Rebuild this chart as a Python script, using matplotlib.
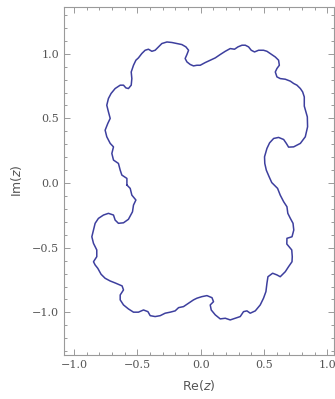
import matplotlib.pyplot as plt
from matplotlib.ticker import MultipleLocator

# boundary of the filled set, traced clockwise from the picture
re_z = [-0.583, -0.583, -0.623, -0.636, -0.650, -0.689, -0.702, -0.689, -0.715, -0.742,
        -0.755, -0.734, -0.715, -0.729, -0.742, -0.729, -0.708, -0.676, -0.636, -0.610,
        -0.591, -0.571, -0.549, -0.544, -0.549, -0.531, -0.512, -0.492, -0.465, -0.439,
        -0.413, -0.386, -0.360, -0.334, -0.307, -0.267, -0.228, -0.188, -0.149, -0.117,
        -0.096, -0.109, -0.123, -0.109, -0.083, -0.057, -0.030, -0.004, 0.036, 0.075,
        0.115, 0.154, 0.194, 0.233, 0.267, 0.294, 0.326, 0.352, 0.378, 0.399,
        0.425, 0.457, 0.496, 0.523, 0.549, 0.589, 0.615, 0.621, 0.602, 0.589,
        0.602, 0.628, 0.668, 0.708, 0.734, 0.760, 0.787, 0.805, 0.818, 0.818,
        0.842, 0.844, 0.826, 0.787, 0.734, 0.694, 0.676, 0.655, 0.615, 0.576,
        0.544, 0.523, 0.504, 0.506, 0.518, 0.538, 0.561, 0.607, 0.628, 0.655,
        0.681, 0.688, 0.708, 0.729, 0.735, 0.721, 0.681, 0.680, 0.719, 0.723,
        0.721, 0.694, 0.668, 0.628, 0.602, 0.568, 0.531, 0.523, 0.515, 0.496,
        0.470, 0.431, 0.391, 0.365, 0.338, 0.312, 0.273, 0.233, 0.194, 0.154,
        0.115, 0.083, 0.075, 0.101, 0.089, 0.049, 0.009, -0.030, -0.057, -0.096,
        -0.136, -0.175, -0.202, -0.241, -0.281, -0.320, -0.360, -0.399, -0.417, -0.452,
        -0.492, -0.531, -0.571, -0.610, -0.636, -0.636, -0.610, -0.621, -0.676, -0.715,
        -0.755, -0.787, -0.813, -0.834, -0.847, -0.821, -0.821, -0.847, -0.860, -0.847,
        -0.834, -0.808, -0.768, -0.729, -0.689, -0.676, -0.650, -0.610, -0.571, -0.539,
        -0.531, -0.512, -0.544, -0.557, -0.583]
im_z = [-0.015, 0.036, 0.062, 0.100, 0.152, 0.178, 0.229, 0.280, 0.307, 0.358,
        0.409, 0.461, 0.500, 0.551, 0.602, 0.654, 0.693, 0.731, 0.757, 0.757,
        0.736, 0.731, 0.757, 0.808, 0.859, 0.911, 0.950, 0.968, 1.002, 1.027,
        1.035, 1.019, 1.027, 1.053, 1.079, 1.091, 1.087, 1.079, 1.071, 1.053,
        1.027, 0.994, 0.963, 0.937, 0.917, 0.906, 0.911, 0.911, 0.932, 0.950,
        0.968, 0.994, 1.019, 1.040, 1.035, 1.053, 1.066, 1.066, 1.053, 1.027,
        1.014, 1.027, 1.027, 1.019, 1.002, 0.975, 0.950, 0.911, 0.886, 0.859,
        0.821, 0.808, 0.803, 0.788, 0.770, 0.757, 0.731, 0.705, 0.666, 0.595,
        0.512, 0.435, 0.358, 0.307, 0.280, 0.278, 0.307, 0.337, 0.353, 0.345,
        0.311, 0.268, 0.203, 0.152, 0.100, 0.054, 0.004, -0.041, -0.093, -0.144,
        -0.183, -0.234, -0.273, -0.311, -0.363, -0.415, -0.427, -0.471, -0.517, -0.569,
        -0.608, -0.646, -0.685, -0.724, -0.710, -0.697, -0.724, -0.775, -0.839, -0.890,
        -0.942, -0.988, -1.006, -0.988, -0.994, -1.032, -1.045, -1.058, -1.045, -1.050,
        -1.019, -0.981, -0.942, -0.917, -0.886, -0.870, -0.878, -0.890, -0.903, -0.929,
        -0.955, -0.963, -0.988, -0.998, -1.006, -1.025, -1.032, -1.025, -0.994, -0.981,
        -0.998, -0.998, -0.973, -0.942, -0.903, -0.865, -0.826, -0.795, -0.772, -0.757,
        -0.736, -0.705, -0.659, -0.633, -0.608, -0.569, -0.517, -0.466, -0.415, -0.363,
        -0.311, -0.273, -0.247, -0.234, -0.247, -0.286, -0.311, -0.307, -0.280, -0.222,
        -0.170, -0.131, -0.093, -0.041, -0.015]

fig = plt.figure(figsize=(3.35, 3.99), dpi=100)
ax = fig.add_axes([0.191, 0.110, 0.805, 0.872])

ax.plot(re_z, im_z, color="#3d3f9e", lw=1.1)

ax.set_xlim(-1.08, 1.05)
ax.set_ylim(-1.33, 1.36)

frame_col = "#9a9a9a"
for s in ax.spines.values():
    s.set_color(frame_col)
    s.set_linewidth(0.8)

ax.xaxis.set_major_locator(MultipleLocator(0.5))
ax.xaxis.set_minor_locator(MultipleLocator(0.1))
ax.yaxis.set_major_locator(MultipleLocator(0.5))
ax.yaxis.set_minor_locator(MultipleLocator(0.1))
ax.tick_params(which="both", direction="in", top=True, right=True,
               color=frame_col, width=0.7, labelsize=8, labelcolor="#555555")
ax.tick_params(which="major", length=4)
ax.tick_params(which="minor", length=2)
ax.xaxis.set_major_formatter(lambda v, p: f"{v:.1f}".replace("-", "\u2212"))
ax.yaxis.set_major_formatter(lambda v, p: f"{v:.1f}".replace("-", "\u2212"))
for lab in ax.get_xticklabels() + ax.get_yticklabels():
    lab.set_family("DejaVu Serif")

ax.set_xlabel(r"Re($z$)", fontsize=9, color="#555555", labelpad=6)
ax.set_ylabel(r"Im($z$)", fontsize=9, color="#555555", labelpad=6)

fig.savefig("out.png", dpi=100)
